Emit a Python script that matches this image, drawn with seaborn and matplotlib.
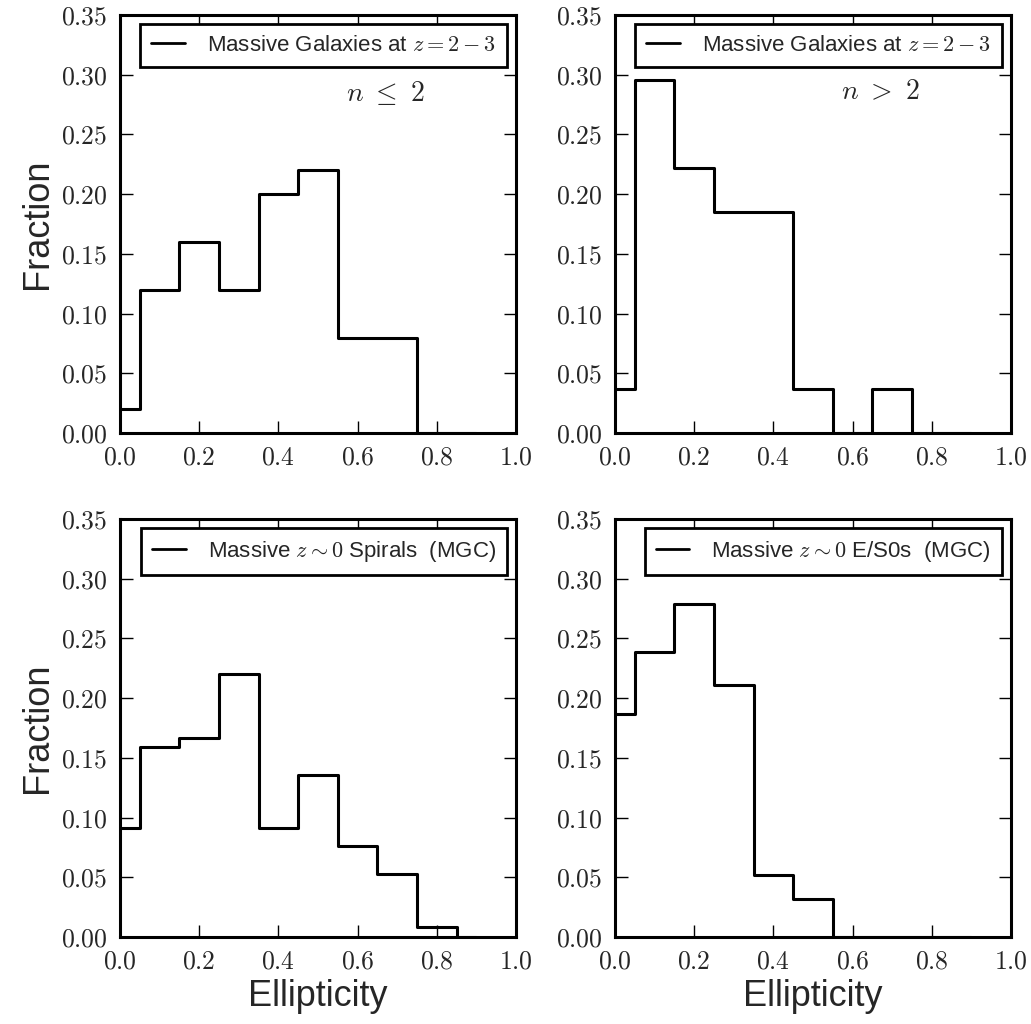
import numpy as np
import pandas as pd
import matplotlib
matplotlib.use('Agg')
import matplotlib.pyplot as plt
import seaborn as sns
from matplotlib.ticker import FormatStrFormatter

# bin centres of the ellipticity histograms
centers = [0.0, 0.1, 0.2, 0.3, 0.4, 0.5, 0.6, 0.7, 0.8, 0.9]

# fractions
frac_z2_disk = [0.02, 0.12, 0.16, 0.12, 0.20, 0.22, 0.08, 0.08, 0.0, 0.0]
frac_z2_sph = [0.037, 0.296, 0.222, 0.185, 0.185, 0.037, 0.0, 0.037, 0.0, 0.0]
frac_mgc_spiral = [0.091, 0.159, 0.167, 0.220, 0.091, 0.136, 0.076, 0.053, 0.008, 0.0]
frac_mgc_es0 = [0.187, 0.239, 0.279, 0.211, 0.052, 0.032, 0.0, 0.0, 0.0, 0.0]

labels = [r'Massive Galaxies at $z=2-3$', r'Massive Galaxies at $z=2-3$',
          r'Massive $z\sim0$ Spirals  (MGC)', r'Massive $z\sim0$ E/S0s  (MGC)']
notes = [r'$n\ \leq\ 2$', r'$n\ >\ 2$', None, None]

xticks = [0.0, 0.2, 0.4, 0.6, 0.8, 1.0]
yticks = [0.0, 0.05, 0.10, 0.15, 0.20, 0.25, 0.30, 0.35]

sns.set_style('ticks')
plt.rcParams['font.family'] = ['Liberation Sans', 'DejaVu Sans']
plt.rcParams['mathtext.fontset'] = 'cm'

fig = plt.figure(figsize=(10.31, 10.24), dpi=100)
w, h = 0.3841, 0.4082
lefts = [0.1164, 0.5965]
bottoms = [0.5771, 0.0850]
series = [frac_z2_disk, frac_z2_sph, frac_mgc_spiral, frac_mgc_es0]

for i, vals in enumerate(series):
    ax = fig.add_axes([lefts[i % 2], bottoms[i // 2], w, h])
    df = pd.DataFrame({'e': centers, 'f': vals})
    sns.lineplot(data=df, x='e', y='f', drawstyle='steps-mid', color='black',
                 lw=2.2, label=labels[i], ax=ax)
    ax.set_xlim(0, 1.0)
    ax.set_ylim(0, 0.35)
    ax.set_xticks(xticks)
    ax.set_yticks(yticks)
    ax.xaxis.set_major_formatter(FormatStrFormatter('$%.1f$'))
    ax.yaxis.set_major_formatter(FormatStrFormatter('$%.2f$'))
    ax.tick_params(direction='in', length=9, width=1.0, top=True, right=True,
                   labelsize=18.5, pad=9, color='black')
    for sp in ax.spines.values():
        sp.set_linewidth(2.2)
        sp.set_color('black')
    leg = ax.legend(loc='upper right', fontsize=16, frameon=True, fancybox=False,
                    framealpha=1, edgecolor='black', borderaxespad=0.4,
                    handlelength=1.5, handletextpad=1.0, borderpad=0.5)
    leg.get_frame().set_linewidth(2.0)
    for ln in leg.get_lines():
        ln.set_linewidth(2.0)
    if notes[i]:
        ax.text(0.57, 0.285, notes[i], fontsize=20, ha='left', va='center')
    ax.set_xlabel('Ellipticity' if i >= 2 else '', fontsize=26)
    ax.set_ylabel('Fraction' if i % 2 == 0 else '', fontsize=26)

fig.savefig('out.png', dpi=100)
